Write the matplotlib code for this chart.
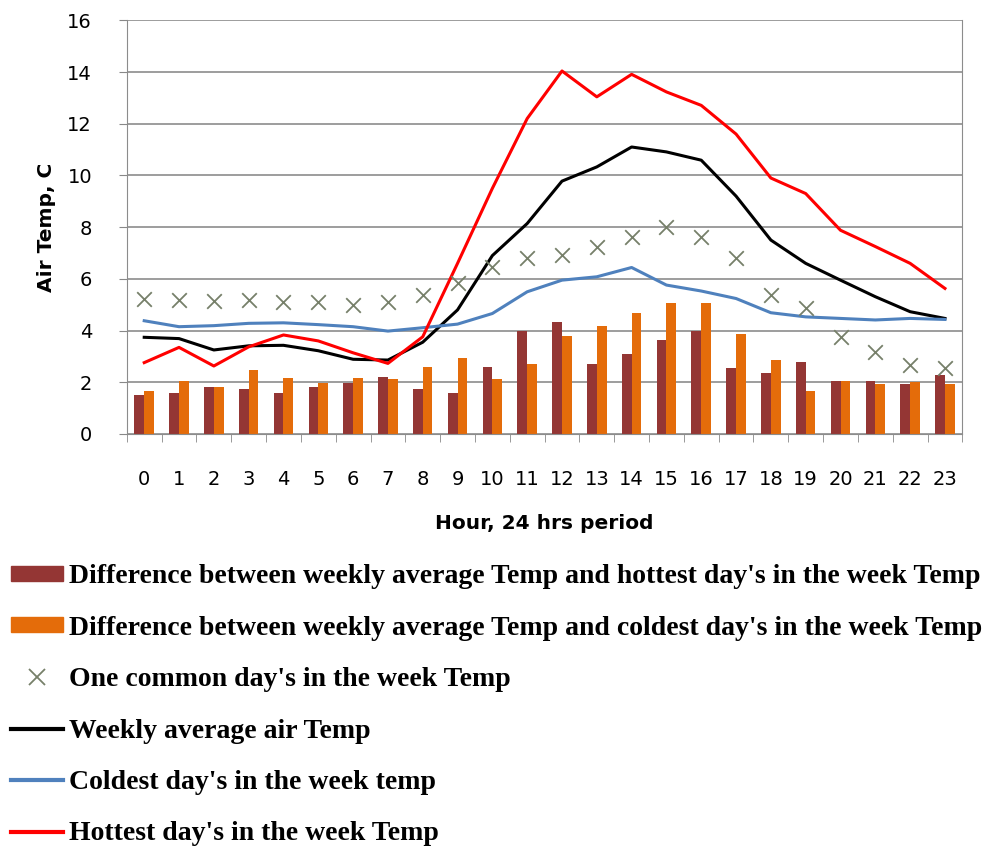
import numpy as np
import matplotlib.pyplot as plt
from matplotlib.lines import Line2D
from matplotlib.patches import Patch

# Hourly values
hours = list(range(24))
diff_hot = [1.51, 1.58, 1.81, 1.74, 1.58, 1.81, 1.97, 2.22, 1.74, 1.57, 2.60, 4.00,
            4.34, 2.69, 3.08, 3.63, 4.00, 2.54, 2.37, 2.77, 2.05, 2.05, 1.92, 2.28]
diff_cold = [1.66, 2.05, 1.81, 2.46, 2.15, 1.97, 2.15, 2.12, 2.60, 2.92, 2.12, 2.69,
             3.79, 4.19, 4.68, 5.08, 5.08, 3.86, 2.86, 1.66, 2.05, 1.92, 2.00, 1.92]
common_day = [5.22, 5.17, 5.13, 5.18, 5.09, 5.12, 4.99, 5.12, 5.37, 5.85, 6.47, 6.79,
              6.92, 7.24, 7.63, 8.00, 7.63, 6.79, 5.37, 4.86, 3.74, 3.18, 2.67, 2.54]
weekly_avg = [3.74, 3.69, 3.25, 3.41, 3.43, 3.22, 2.89, 2.86, 3.55, 4.80, 6.90, 8.14,
              9.78, 10.33, 11.10, 10.91, 10.59, 9.20, 7.50, 6.60, 5.95, 5.31, 4.73, 4.47]
coldest = [4.38, 4.15, 4.19, 4.28, 4.30, 4.23, 4.15, 3.98, 4.11, 4.25, 4.66, 5.50,
           5.95, 6.08, 6.44, 5.76, 5.53, 5.24, 4.69, 4.53, 4.47, 4.41, 4.47, 4.43]
hottest = [2.76, 3.35, 2.63, 3.37, 3.83, 3.60, 3.14, 2.73, 3.76, 6.60, 9.50, 12.20,
           14.04, 13.04, 13.91, 13.23, 12.71, 11.60, 9.90, 9.30, 7.88, 7.25, 6.60, 5.63]

legend_labels = [
    "Difference between weekly average Temp and hottest day's in the week Temp",
    "Difference between weekly average Temp and coldest day's in the week Temp",
    "One common day's in the week Temp",
    "Weekly average air Temp",
    "Coldest day's in the week temp",
    "Hottest day's in the week Temp",
]

c_hot_bar = '#943634'
c_cold_bar = '#e46c0a'
c_marker = '#77806a'
c_blue = '#4f81bd'
c_red = '#ff0000'

fig = plt.figure(figsize=(9.83, 8.46), dpi=100)
ax = fig.add_axes([0.129, 0.487, 0.850, 0.489])

x = np.arange(len(hours))
w = 0.28
ax.bar(x - w / 2, diff_hot, width=w, color=c_hot_bar, zorder=2)
ax.bar(x + w / 2, diff_cold, width=w, color=c_cold_bar, zorder=2)
ax.plot(x, weekly_avg, color='black', lw=2.2, zorder=3)
ax.plot(x, coldest, color=c_blue, lw=2.2, zorder=3)
ax.plot(x, hottest, color=c_red, lw=2.2, zorder=3)
ax.scatter(x, common_day, marker='x', s=110, color=c_marker, linewidths=1.3, zorder=4)

ax.set_xlim(-0.5, 23.5)
ax.set_ylim(0, 16)
ax.set_yticks(range(0, 17, 2))
ax.set_xticks(x)
ax.set_xticklabels([str(h) for h in hours])
ax.set_xticks(np.arange(-0.5, 24, 1), minor=True)
ax.tick_params(axis='x', which='major', length=0, pad=26, labelsize=14)
ax.tick_params(axis='x', which='minor', length=6, color='#888888')
ax.tick_params(axis='y', length=6, color='#888888', labelsize=14, pad=19)
ax.grid(axis='y', color='#8c8c8c', lw=1.2, zorder=0)
for s in ax.spines.values():
    s.set_color('#8c8c8c')
ax.spines['top'].set_visible(False)

ax.set_xlabel("Hour, 24 hrs period", fontsize=14.5, fontweight='bold', labelpad=18)
ax.set_ylabel("Air Temp, C", fontsize=14.5, fontweight='bold', labelpad=8)

handles = [
    Patch(color=c_hot_bar),
    Patch(color=c_cold_bar),
    Line2D([], [], marker='x', ls='none', color=c_marker, markersize=11, mew=1.3),
    Line2D([], [], color='black', lw=3),
    Line2D([], [], color=c_blue, lw=3),
    Line2D([], [], color=c_red, lw=3),
]
fig.legend(handles, legend_labels, loc='upper left', bbox_to_anchor=(0.0, 0.346),
           frameon=False, prop={'family': 'Liberation Serif', 'weight': 'bold', 'size': 20},
           labelspacing=0.95, handlelength=1.87, handleheight=0.45, handletextpad=0.22,
           borderaxespad=0.0)

fig.savefig('out.png', dpi=100)
